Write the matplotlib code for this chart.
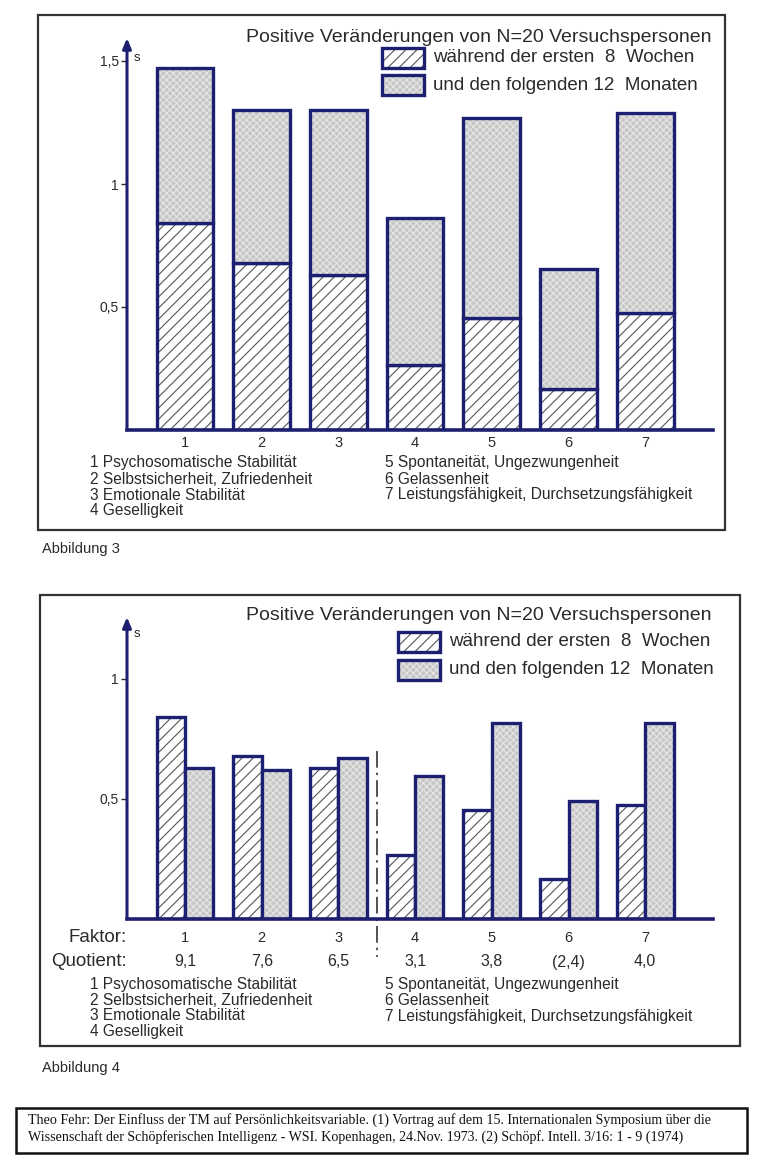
import matplotlib.pyplot as plt
import matplotlib.transforms as mtransforms
from matplotlib.patches import Rectangle

# values (s = standard deviation units)
factors = [1, 2, 3, 4, 5, 6, 7]
first_8_weeks = [0.84, 0.68, 0.63, 0.265, 0.455, 0.165, 0.475]
next_12_months = [0.63, 0.62, 0.67, 0.595, 0.815, 0.49, 0.815]
quotients = ["9,1", "7,6", "6,5", "3,1", "3,8", "(2,4)", "4,0"]
factor_names = [
    "1 Psychosomatische Stabilität",
    "2 Selbstsicherheit, Zufriedenheit",
    "3 Emotionale Stabilität",
    "4 Geselligkeit",
    "5 Spontaneität, Ungezwungenheit",
    "6 Gelassenheit",
    "7 Leistungsfähigkeit, Durchsetzungsfähigkeit",
]
title = "Positive Veränderungen von N=20 Versuchspersonen"
legend_labels = ["während der ersten  8  Wochen", "und den folgenden 12  Monaten"]
citation = [
    "Theo Fehr: Der Einfluss der TM auf Persönlichkeitsvariable. (1) Vortrag auf dem 15. "
    "Internationalen Symposium über die",
    "Wissenschaft der Schöpferischen Intelligenz - WSI. Kopenhagen, 24.Nov. 1973. (2) "
    "Schöpf. Intell. 3/16: 1 - 9 (1974)",
]

W, H = 762, 1172
NAVY = "#1d2070"
TXT = "#2a2a2a"
HATCH_FC, HATCH_EC = "white", "#555555"
DOT_FC, DOT_EC = "#c6c6c6", "#e6e6e6"

plt.rcParams["font.family"] = ["Liberation Sans", "DejaVu Sans"]
plt.rcParams["hatch.linewidth"] = 0.8

fig = plt.figure(figsize=(W / 100, H / 100), dpi=100)


def fx(px):
    return px / W


def fy(py):
    return 1 - py / H


def ftext(x, y, s, **kw):
    kw.setdefault("color", TXT)
    kw.setdefault("va", "center")
    fig.text(fx(x), fy(y), s, **kw)


def frame(x0, y0, x1, y1, lw=1.6, color="#333333"):
    fig.add_artist(Rectangle((fx(x0), fy(y1)), fx(x1) - fx(x0), fy(y0) - fy(y1),
                             transform=fig.transFigure, fill=False, lw=lw, ec=color))


def fill_style(kind):
    if kind == "hatch":
        return HATCH_FC, HATCH_EC, "///"
    return DOT_FC, DOT_EC, "xxxxx"


def styled_bar(ax, x, h, w, bottom, kind):
    fc, ec, hatch = fill_style(kind)
    ax.bar(x, h, w, bottom=bottom, align="edge", color=fc, edgecolor=ec, hatch=hatch, lw=0)
    ax.bar(x, h, w, bottom=bottom, align="edge", fill=False, edgecolor=NAVY, lw=2.4)


def legend_box(x0, y0, kind):
    fc, ec, hatch = fill_style(kind)
    fig.add_artist(Rectangle((fx(x0), fy(y0 + 20)), 42 / W, 20 / H, transform=fig.transFigure,
                             fc=fc, ec=ec, hatch=hatch, lw=0))
    fig.add_artist(Rectangle((fx(x0), fy(y0 + 20)), 42 / W, 20 / H, transform=fig.transFigure,
                             fill=False, ec=NAVY, lw=2.4))


def make_axes(top_px, zero_px, px_per_unit):
    ax = fig.add_axes([fx(127), fy(zero_px), fx(713) - fx(127), (zero_px - top_px) / H])
    step = 76.7
    ax.set_xlim(1 - 58 / step, 1 + (713 - 185) / step)
    ax.set_ylim(0, (zero_px - top_px) / px_per_unit)
    for side in ["top", "right", "left"]:
        ax.spines[side].set_visible(False)
    ax.spines["bottom"].set_color(NAVY)
    ax.spines["bottom"].set_linewidth(2.6)
    ax.annotate("", xy=(0, 1.0), xytext=(0, 0), xycoords="axes fraction",
                arrowprops=dict(arrowstyle="-|>,head_length=0.6,head_width=0.25",
                                color=NAVY, lw=2.2, shrinkA=0, shrinkB=0))
    ax.text(0.012, 0.965, "s", transform=ax.transAxes, fontsize=9.5, color=TXT, va="top")
    ax.tick_params(axis="y", length=4, width=1, color=TXT, labelsize=10, labelcolor=TXT, pad=2)
    ax.set_xticks([])
    ax.set_facecolor("none")
    return ax


# ---------- Abbildung 3: stacked ----------
frame(38, 15, 725, 530)
ax1 = make_axes(38, 430, 246)
for f, a, b in zip(factors, first_8_weeks, next_12_months):
    styled_bar(ax1, f - 0.37, a, 0.74, 0, "hatch")
    styled_bar(ax1, f - 0.37, b, 0.74, a, "dot")
ax1.set_yticks([0.5, 1, 1.5])
ax1.set_yticklabels(["0,5", "1", "1,5"])
tr1 = mtransforms.blended_transform_factory(ax1.transData, fig.transFigure)
for f in factors:
    ax1.text(f, fy(443), str(f), transform=tr1, ha="center", va="center", fontsize=10.5, color=TXT)

ftext(712, 37, title, ha="right", fontsize=14)
legend_box(382, 48, "hatch")
legend_box(382, 75, "dot")
ftext(433, 58, legend_labels[0], fontsize=13.5)
ftext(433, 85, legend_labels[1], fontsize=13.5)

for i, name in enumerate(factor_names):
    x, row = (90, i) if i < 4 else (385, i - 4)
    ftext(x, 463 + 16 * row, name, fontsize=11.2)
ftext(42, 549, "Abbildung 3", fontsize=10.5)

# ---------- Abbildung 4: side by side ----------
frame(40, 595, 740, 1046)
ax2 = make_axes(617, 919, 240)
for f, a, b in zip(factors, first_8_weeks, next_12_months):
    styled_bar(ax2, f - 0.37, a, 0.37, 0, "hatch")
    styled_bar(ax2, f, b, 0.37, 0, "dot")
ax2.set_yticks([0.5, 1])
ax2.set_yticklabels(["0,5", "1"])
sep = (factors[2] + factors[3]) / 2
ax2.plot([sep, sep], [0.70, -0.16], ls=(0, (10, 3, 1.5, 3)), color="#333333", lw=1.2, clip_on=False)

tr2 = mtransforms.blended_transform_factory(ax2.transData, fig.transFigure)
for f, q in zip(factors, quotients):
    ax2.text(f, fy(938), str(f), transform=tr2, ha="center", va="center", fontsize=10.5, color=TXT)
    ax2.text(f, fy(962), q, transform=tr2, ha="center", va="center", fontsize=11.5, color=TXT)
ftext(127, 937, "Faktor:", ha="right", fontsize=13.5)
ftext(127, 961, "Quotient:", ha="right", fontsize=13.5)

ftext(712, 615, title, ha="right", fontsize=14)
legend_box(398, 632, "hatch")
legend_box(398, 660, "dot")
ftext(449, 642, legend_labels[0], fontsize=13.5)
ftext(449, 670, legend_labels[1], fontsize=13.5)

for i, name in enumerate(factor_names):
    x, row = (90, i) if i < 4 else (385, i - 4)
    ftext(x, 985 + 15.5 * row, name, fontsize=11.2)
ftext(42, 1068, "Abbildung 4", fontsize=10.5)

# ---------- citation ----------
frame(16, 1108, 747, 1153, lw=1.8, color="#111111")
for j, line in enumerate(citation):
    ftext(28, 1120 + 17 * j, line, fontsize=10.1, color="#111111",
          family=["Liberation Serif", "DejaVu Serif"])

fig.savefig("out.png", dpi=100)
